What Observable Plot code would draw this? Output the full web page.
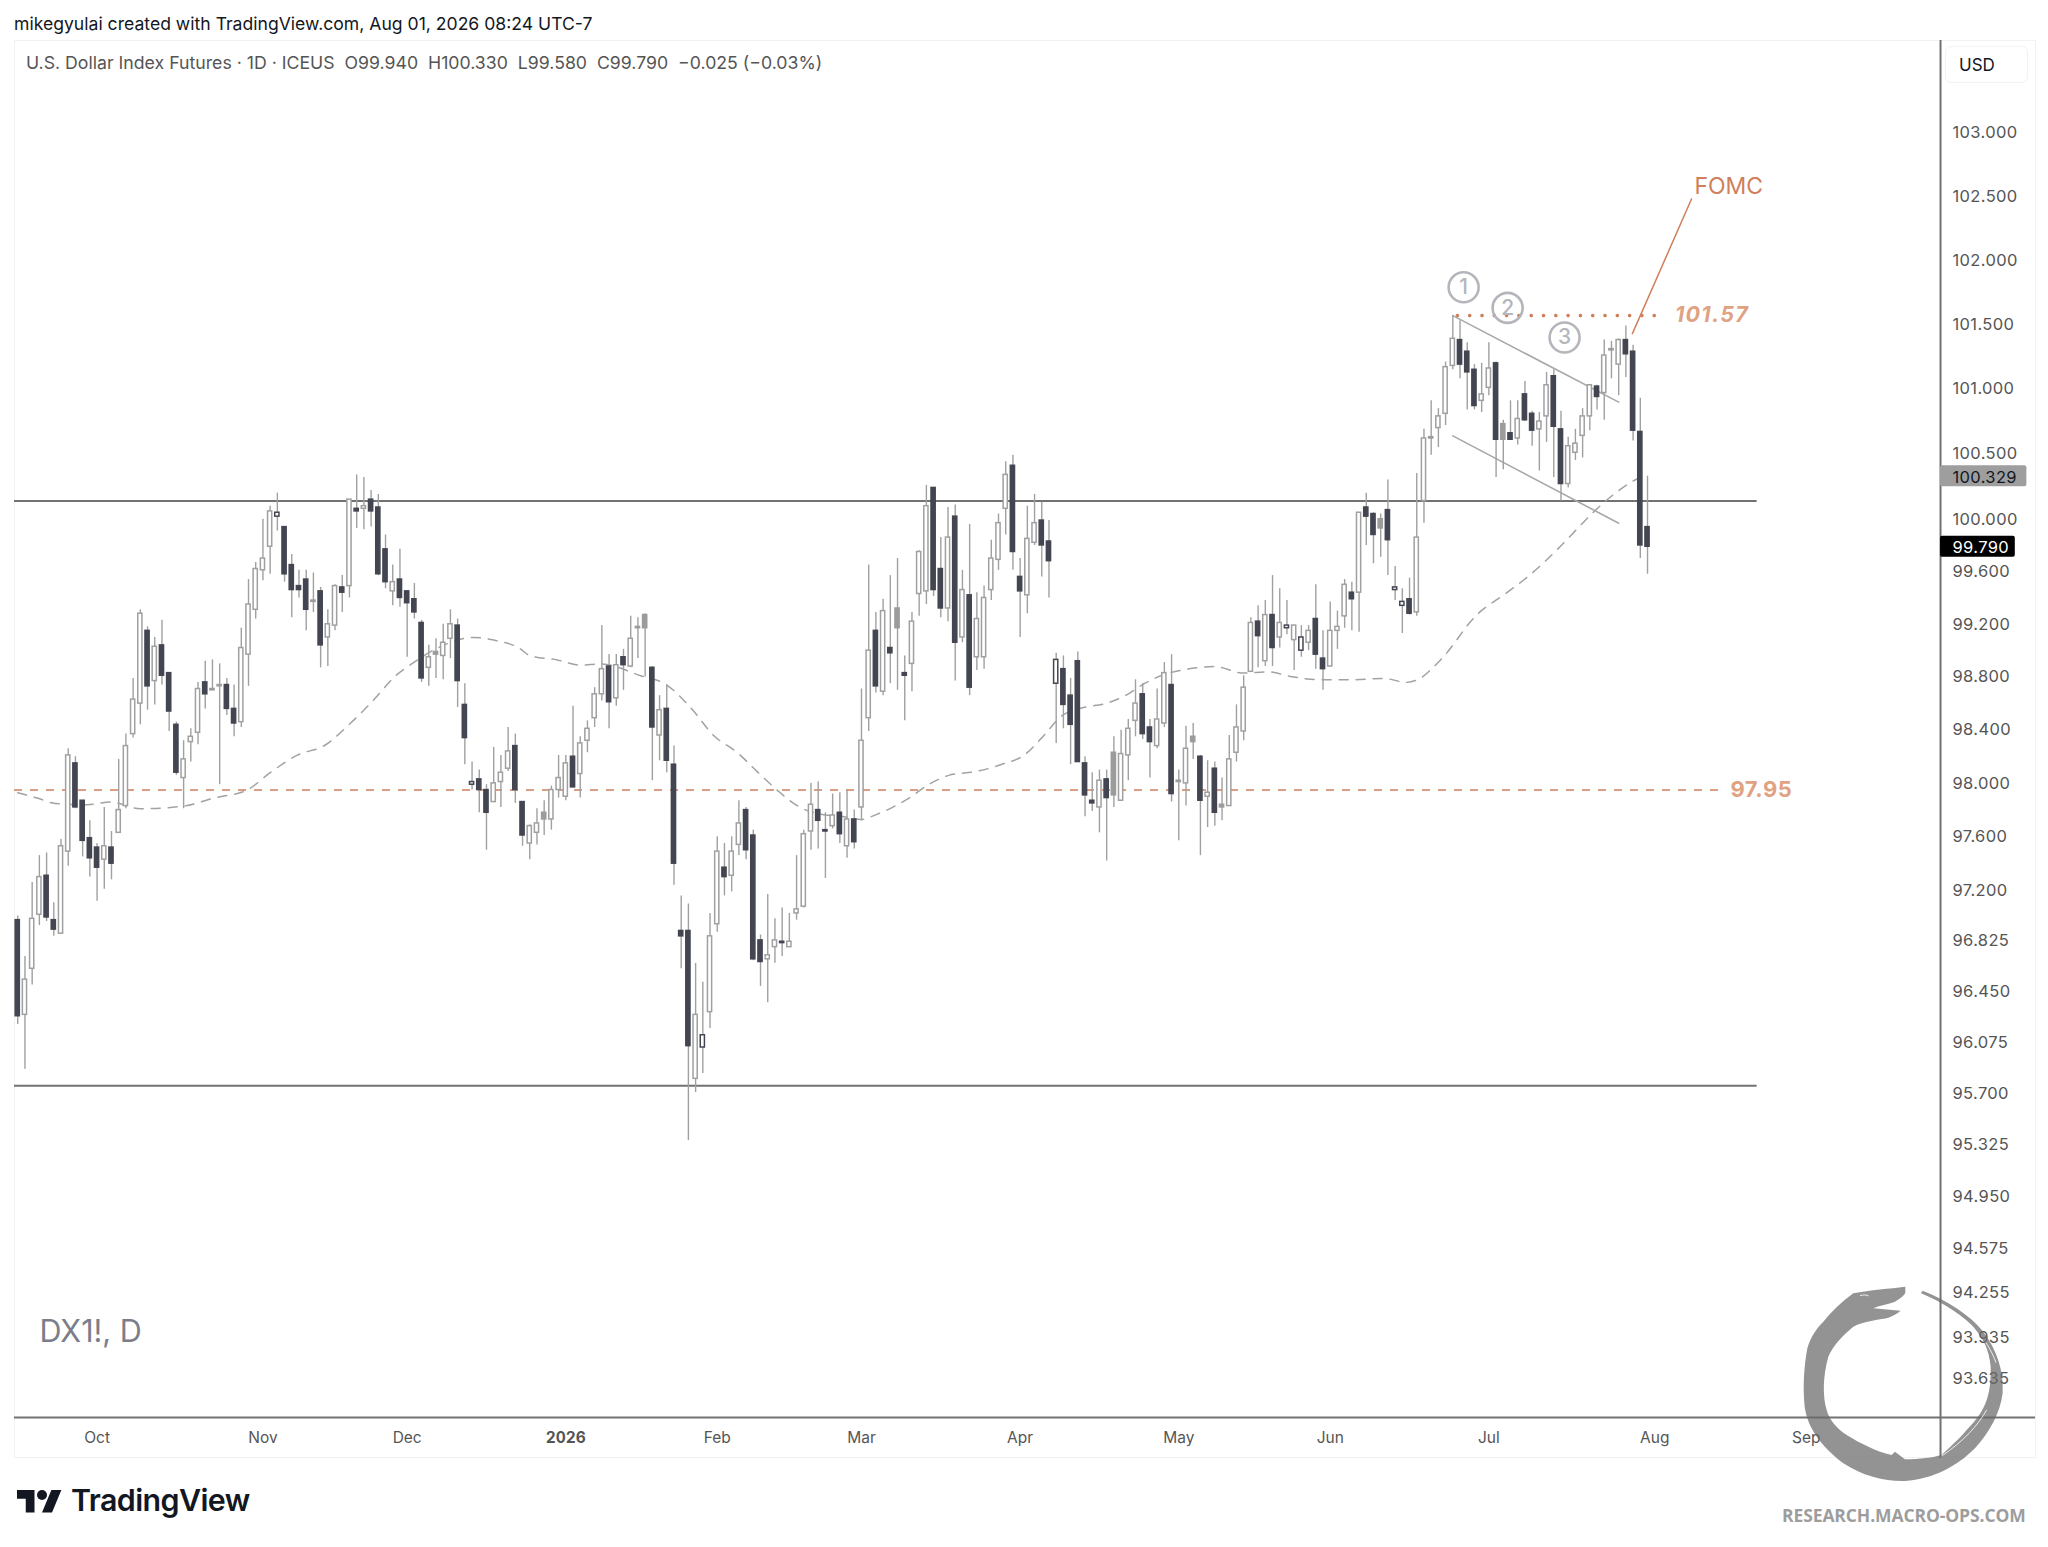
<!DOCTYPE html>
<html>
<head>
<meta charset="utf-8">
<script src="https://cdn.jsdelivr.net/npm/d3@7"></script>
<script src="https://cdn.jsdelivr.net/npm/@observablehq/plot@0.6"></script>
<style>
  html,body{margin:0;padding:0;background:#fff;}
  #page{position:relative;width:2048px;height:1547px;overflow:hidden;font-family:Inter,"Liberation Sans",sans-serif;}
  #page>div{position:absolute;white-space:pre;}
  #frame{left:14px;top:40px;width:2020px;height:1416px;border:1px solid #f2f2f2;}
  #by{left:14px;top:13px;font-size:17.6px;color:#131722;}
  #legend{left:26px;top:52px;font-size:17.7px;color:#555;}
  #usd{left:1945px;top:46px;width:83px;height:37px;border:1px solid #f3f3f3;border-radius:6px;background:#fff;box-sizing:border-box;font-size:17px;line-height:36px;padding-left:13px;color:#131722;}
  #tv{left:71px;top:1482px;font-size:30.4px;font-weight:600;color:#131722;letter-spacing:-.6px;}
  #site{left:1782px;top:1503px;font-size:17.5px;font-weight:700;color:#9d9d9d;font-family:"Open Sans",sans-serif;letter-spacing:-.1px;}
  #chart{position:absolute;left:0;top:0;}
  svg.deco{position:absolute;left:0;top:0;pointer-events:none;}
  .wide{letter-spacing:1.3px;}
  .mid{letter-spacing:.5px;}
  .scale{letter-spacing:.35px;}
</style>
</head>
<body>
<div id="page">
  <div id="frame"></div>
  <div id="chart"></div>
  <div id="by">mikegyulai created with TradingView.com, Aug 01, 2026 08:24 UTC-7</div>
  <div id="legend">U.S. Dollar Index Futures · 1D · ICEUS  O99.940  H100.330  L99.580  C99.790  −0.025 (−0.03%)</div>
  <div id="usd">USD</div>
  <div id="tv">TradingView</div>
  <div id="site">RESEARCH.MACRO-OPS.COM</div>
  <svg class="deco" width="2048" height="1547">
    <g transform="translate(17,1485) scale(1.25)" fill="#131722"><path d="M14 22H7V11H0V4h14v18zM28 22h-8l7.5-18h8L28 22z"/><circle cx="20" cy="8" r="4"/></g>
    <g transform="translate(1700,1180) scale(.3333)">
      <path fill="#6a6a6a" fill-opacity=".72" d="M616 320 C570 326 510 330 460 340 C425 365 395 395 370 425 C350 445 332 470 322 505 C312 560 308 620 314 680 C323 745 365 800 430 850 C490 890 560 905 615 903 C700 897 770 860 825 805 C870 755 900 700 908 640 C912 570 890 510 850 455 C810 405 740 360 668 332 L663 340 C700 355 770 390 820 440 C850 475 868 510 872 560 C874 640 860 690 800 750 C770 785 745 805 725 825 C700 832 660 838 615 838 L585 815 L575 825 C530 815 480 790 440 765 C410 745 388 720 380 690 C368 650 368 590 385 530 C400 495 430 465 460 440 C490 425 540 418 560 415 C580 408 595 398 602 392 L520 385 C540 375 570 372 585 365 C600 355 612 348 616 338 Z"/>
      <path fill="none" stroke="#fff" stroke-width="2.5" d="M858 488 C872 510 882 530 888 548 M860 690 C835 735 790 785 725 828 M480 347 C490 344 500 344 506 348"/>
    </g>
  </svg>
</div>
<script>
const opens = [
96.98,96.28,96.62,97.02,97.31,96.98,96.88,97.49,98.15,97.87,
97.59,97.52,97.43,97.52,97.63,97.83,98.37,98.60,99.15,98.77,
99.04,98.83,98.44,98.04,98.31,98.38,98.76,98.70,98.73,98.74,
98.56,98.46,98.97,99.31,99.61,99.79,100.02,99.94,99.65,99.49,
99.54,99.37,99.45,99.10,99.19,99.48,99.49,100.08,100.08,100.15,
100.09,99.77,99.45,99.54,99.45,99.39,99.21,98.87,98.97,98.96,
99.09,99.19,98.59,97.99,98.03,97.95,97.86,98.01,98.11,98.28,
97.86,97.55,97.63,97.73,97.73,97.95,97.90,98.20,98.07,98.32,
98.49,98.67,98.88,98.64,98.95,98.88,99.17,99.27,98.87,98.36,
98.56,98.14,96.90,96.90,95.81,96.04,96.30,96.95,97.37,97.31,
97.54,97.80,97.61,96.83,96.69,96.78,96.82,96.78,97.03,97.08,
97.64,97.80,97.65,97.68,97.78,97.53,97.73,97.82,98.49,99.15,
98.69,99.02,99.32,98.83,98.90,99.43,99.45,100.24,99.62,99.32,
100.02,99.10,99.42,98.95,98.95,99.46,99.69,100.08,100.41,99.56,
99.42,99.82,99.99,99.83,98.75,98.86,98.66,98.92,98.15,97.87,
97.82,98.03,98.23,97.87,98.21,98.47,98.67,98.42,98.28,98.45,
98.74,98.01,98.00,98.35,98.20,97.90,98.11,97.84,97.83,98.23,
98.39,98.84,99.22,98.92,99.27,99.10,99.17,99.08,99.00,99.06,
99.24,98.94,98.88,99.15,99.26,99.44,99.44,100.09,100.04,100.00,
100.07,99.46,99.34,99.39,99.29,100.14,100.62,100.70,100.81,101.18,
101.38,101.29,101.15,100.91,101.01,101.20,100.73,100.66,100.62,100.96,
100.81,100.69,100.79,101.10,100.69,100.27,100.51,100.64,100.79,101.02,
100.97,101.30,101.19,101.38,101.29,100.67,99.94];
const highs = [
97.01,96.71,97.26,97.46,97.48,97.11,97.58,98.26,98.20,97.87,
97.72,97.55,97.82,97.64,98.18,98.37,98.79,99.31,99.18,99.10,
99.23,98.83,98.46,98.32,98.41,98.76,98.92,98.93,98.90,98.79,
98.74,99.17,99.54,99.67,100.00,100.10,100.20,99.94,99.73,99.61,
99.61,99.59,99.48,99.31,99.50,99.57,100.15,100.34,100.32,100.22,
100.19,99.88,99.65,99.77,99.45,99.51,99.23,99.04,99.09,99.20,
99.31,99.24,98.75,98.16,98.10,97.99,98.27,98.21,98.42,98.37,
97.86,97.69,97.81,97.87,97.98,98.21,98.21,98.58,98.35,98.47,
98.72,99.19,98.97,98.97,99.01,99.26,99.25,99.28,98.88,98.66,
98.74,98.28,97.16,97.10,96.66,96.52,97.03,97.60,97.55,97.60,
97.87,97.82,97.65,96.87,97.17,96.99,97.07,97.03,97.46,97.65,
98.00,98.01,97.78,97.92,97.93,97.95,97.80,98.71,99.65,99.29,
99.39,99.57,99.70,98.96,99.29,99.76,100.26,100.24,99.86,100.09,
100.11,99.61,99.96,99.44,99.49,99.84,100.04,100.44,100.49,99.70,
100.10,100.19,100.13,99.99,98.98,98.96,98.79,98.99,98.20,98.08,
98.10,98.10,98.35,98.40,98.48,98.78,98.75,98.48,98.71,98.91,
98.97,98.10,98.43,98.45,98.21,98.17,98.16,98.04,98.36,98.59,
98.81,99.25,99.34,99.38,99.57,99.47,99.38,99.19,99.19,99.19,
99.50,99.15,99.37,99.30,99.54,99.52,100.05,100.20,100.05,100.04,
100.30,99.64,99.47,99.55,100.35,100.69,100.91,100.85,101.21,101.57,
101.53,101.36,101.19,101.20,101.36,101.21,100.76,100.91,100.91,101.06,
100.83,100.82,101.13,101.15,100.83,100.63,100.69,100.85,101.03,101.03,
101.38,101.37,101.39,101.49,101.34,100.93,100.33];
const lows = [
96.21,95.88,96.50,96.94,96.97,96.86,96.88,97.38,97.81,97.45,
97.30,97.12,97.21,97.28,97.63,97.81,98.34,98.44,98.55,98.59,
98.74,98.39,98.06,97.81,98.16,98.29,98.56,98.70,97.99,98.51,
98.35,98.42,98.73,99.24,99.53,99.58,99.91,99.52,99.25,99.40,
99.15,99.29,98.87,98.88,99.15,99.29,99.40,99.93,99.92,99.94,
99.57,99.47,99.34,99.33,98.95,99.24,98.76,98.73,98.79,98.78,
98.94,98.57,98.14,97.95,97.78,97.50,97.86,97.82,98.09,97.85,
97.53,97.43,97.54,97.61,97.65,97.89,97.87,97.97,97.89,98.23,
98.42,98.62,98.41,98.58,98.70,98.87,98.94,98.80,98.02,98.17,
98.08,97.24,96.62,95.36,95.71,95.85,96.18,96.89,97.16,97.19,
97.46,97.43,96.68,96.49,96.37,96.66,96.71,96.78,96.98,97.07,
97.50,97.51,97.29,97.66,97.55,97.44,97.51,97.72,98.39,98.68,
98.66,98.75,98.70,98.47,98.69,99.26,99.35,99.41,99.25,99.22,
98.77,99.06,98.66,98.85,98.86,99.38,99.61,99.88,99.61,99.10,
99.28,99.80,99.56,99.40,98.30,98.41,98.14,98.16,97.75,97.79,
97.63,97.42,97.82,97.87,98.02,98.35,98.33,98.04,98.26,98.42,
97.86,97.57,97.83,98.18,97.46,97.67,97.68,97.72,97.83,98.16,
98.32,98.84,98.87,98.88,98.88,99.02,99.12,98.85,98.95,99.00,
98.86,98.70,98.88,99.01,99.17,99.15,99.14,99.80,99.66,99.71,
99.57,99.38,99.13,99.27,99.26,99.97,100.49,100.55,100.72,101.15,
101.08,100.84,100.84,100.82,100.95,100.32,100.38,100.61,100.57,100.75,
100.56,100.37,100.59,100.32,100.14,100.24,100.45,100.47,100.68,100.84,
100.76,101.08,100.95,101.09,100.60,99.70,99.58];
const closes = [
96.27,96.54,96.99,97.30,97.00,96.91,97.53,98.21,97.82,97.57,
97.44,97.37,97.53,97.40,97.80,98.28,98.63,99.28,98.73,99.03,
98.81,98.54,98.08,98.18,98.35,98.71,98.67,98.71,98.74,98.56,
98.45,99.02,99.35,99.62,99.70,100.06,100.05,99.58,99.46,99.46,
99.31,99.38,99.04,99.20,99.49,99.44,100.15,100.06,100.10,100.06,
99.58,99.52,99.52,99.40,99.36,99.29,98.79,98.95,98.99,99.06,
99.20,98.77,98.34,98.01,97.95,97.78,98.00,98.08,98.24,97.95,
97.61,97.68,97.70,97.78,97.95,98.04,98.15,97.97,98.30,98.41,
98.67,98.86,98.61,98.89,98.89,99.09,99.18,99.17,98.42,98.55,
98.17,97.40,96.86,96.05,96.28,96.13,96.86,97.49,97.30,97.49,
97.70,97.50,96.69,96.67,96.72,96.83,96.81,96.82,97.06,97.62,
97.84,97.72,97.64,97.76,97.62,97.73,97.56,98.32,99.00,98.73,
99.30,98.98,99.17,98.81,99.22,99.75,100.10,99.46,99.32,99.86,
99.06,99.46,98.72,99.24,99.40,99.70,99.97,100.34,99.75,99.45,
99.85,99.97,99.80,99.68,98.93,98.59,98.44,98.16,97.91,97.85,
98.02,97.89,97.91,98.22,98.41,98.60,98.37,98.31,98.48,98.83,
97.92,98.02,98.26,98.31,97.87,97.93,97.78,97.82,98.18,98.42,
98.72,99.21,99.11,99.27,99.02,99.21,99.19,99.19,99.10,99.15,
98.97,98.86,99.15,99.18,99.50,99.39,100.05,100.02,99.88,99.93,
99.84,99.48,99.37,99.28,99.86,100.62,100.63,100.79,101.17,101.39,
101.19,101.13,100.87,100.96,101.16,100.61,100.61,100.61,100.77,100.76,
100.68,100.75,101.03,100.71,100.27,100.56,100.58,100.79,101.03,100.94,
101.26,101.31,101.38,101.27,100.68,99.80,99.79];
// bar numbers (from 1) drawn with a grey body or a dark outline instead of the usual up/down look
const greyBars = [28,42,59,74,87,88,123,153,162,164,168,190,197,207,222];
const outlinedBars = [37,64,96,145,177,179,192,193];
const maIndex = [0,2.7,5.2,9.6,12.9,17,23,27.2,31.8,35,38.7,42.7,46.1,49.4,52.2,54.9,58.6,63.2,66,69.5,71.1,74.8,78,80.8,86.4,90,93.3,96.5,99.8,102.5,105.3,108.5,111.3,114.6,116.9,119.2,123.3,126.6,129.1,133,136.3,139.5,142.3,144.6,147.8,150.8,153.9,156.2,159,162.2,165.9,170,173.3,177,180.7,184.8,189.5,192.5,194.1,197.3,202.3,206.5,209.8,213.5,216.3,218.6,221.3,223.9,225.8];
const maValue = [97.93,97.89,97.85,97.84,97.86,97.81,97.83,97.89,97.95,98.08,98.21,98.29,98.45,98.63,98.80,98.91,99.03,99.10,99.08,99.02,98.96,98.93,98.89,98.90,98.81,98.74,98.57,98.36,98.23,98.09,97.95,97.82,97.77,97.75,97.73,97.77,97.88,98.00,98.06,98.09,98.14,98.21,98.36,98.50,98.57,98.60,98.67,98.75,98.82,98.86,98.88,98.83,98.84,98.80,98.78,98.78,98.79,98.76,98.78,98.93,99.27,99.44,99.58,99.77,99.93,100.06,100.19,100.29,100.34];
const yTicks = [103,102.5,102,101.5,101,100.5,100,99.6,99.2,98.8,98.4,98,97.6,97.2,96.825,96.45,96.075,95.7,95.325,94.95,94.575,94.255,93.935,93.635];
const monthTicks = [11,34,54,97,117,139,161,182,204,227,248];
const monthNames = ["Oct","Nov","Dec","Feb","Mar","Apr","May","Jun","Jul","Aug","Sep"];
const yearTicks = [76];
const yearNames = ["2026"];
const resistance = 100.14, support = 95.76, pivot = 97.95, peak = 101.57;
const channelTop = [[199,101.57],[222,100.90]];
const channelBottom = [[199,100.64],[222,99.97]];
const fomcLine = [[223.9,101.43],[232.1,102.48]];
const counts = [{i:200.5,v:101.79,t:"1"},{i:206.6,v:101.63,t:"2"},{i:214.5,v:101.40,t:"3"}];
const lastTags = [{v:100.329,t:"100.329",fill:"#9e9e9e",color:"#131722",end:278.6},{v:99.79,t:"99.790",fill:"#000000",color:"#ffffff",end:277}];

const kindOf = (n,o,c) => greyBars.includes(n) ? "g" : outlinedBars.includes(n) ? "h" : c >= o ? "u" : "d";
const bars = opens.map((o,i)=>({i,o,h:highs[i],l:lows[i],c:closes[i],k:kindOf(i+1,o,closes[i])}));
const ma = maIndex.map((i,n)=>({i,v:maValue[n]}));
const paneEdge = 266.63, lineEnd = 241.2, font = "Inter, 'Liberation Sans', sans-serif";
const axisGrey = "#727272", wick = "#a0a0a0", dark = "#434651", orange = "#cf7f5a", soft = "#dfa283";
const fills = {d:dark,u:"#ffffff",g:"#9c9c9c",h:"#ffffff"}, strokes = {d:dark,u:"#a0a0a0",g:"#9c9c9c",h:dark};
const tag = 0.0008;

const plot = Plot.plot({
  width:2048,height:1547,marginLeft:14,marginRight:13,marginTop:40,marginBottom:130,
  style:{background:"transparent",overflow:"visible"},
  x:{domain:[-0.45,279.8],axis:null},
  y:{type:"log",domain:[93.36,103.73],axis:null},
  color:{type:"identity"},
  marks:[
    Plot.ruleY([pivot],{x1:-0.45,x2:236,stroke:orange,strokeWidth:1.4,strokeDasharray:"8 8"}),
    Plot.ruleY([resistance,support],{x1:-0.45,x2:lineEnd,stroke:axisGrey,strokeWidth:2}),
    Plot.ruleY([peak],{x1:199.7,x2:228,stroke:orange,strokeWidth:3.6,strokeDasharray:"0.1 12.2",strokeLinecap:"round"}),
    Plot.line(ma,{x:"i",y:"v",curve:"monotone-x",stroke:"#a2a2a2",strokeWidth:1.5,strokeDasharray:"9 8"}),
    Plot.line(channelTop,{x:d=>d[0],y:d=>d[1],stroke:"#a8a8a8",strokeWidth:1.6}),
    Plot.line(channelBottom,{x:d=>d[0],y:d=>d[1],stroke:"#a8a8a8",strokeWidth:1.6}),
    Plot.line(fomcLine,{x:d=>d[0],y:d=>d[1],stroke:orange,strokeWidth:1.5}),
    Plot.ruleX(bars,{x:"i",y1:"l",y2:"h",stroke:wick,strokeWidth:1.4}),
    Plot.rect(bars,{x1:d=>d.i-0.29,x2:d=>d.i+0.29,y1:"o",y2:"c",
      fill:d=>fills[d.k],stroke:d=>strokes[d.k],strokeWidth:1.5}),
    Plot.dot(counts,{x:"i",y:"v",r:15,stroke:"#b4b6bc",strokeWidth:2.6,fill:"none"}),
    Plot.text(counts,{x:"i",y:"v",text:"t",fill:"#b4b6bc",fontSize:21,fontWeight:500,fontFamily:font}),
    Plot.text(["FOMC"],{x:232.5,y:102.58,text:d=>d,textAnchor:"start",fill:orange,fontSize:23,fontFamily:font}),
    Plot.text(["101.57"],{x:229.8,y:peak,text:d=>d,textAnchor:"start",fill:soft,fontSize:21.5,fontWeight:700,fontStyle:"italic",fontFamily:font,className:"wide"}),
    Plot.text(["97.95"],{x:237.5,y:pivot,text:d=>d,textAnchor:"start",fill:soft,fontSize:22,fontWeight:700,fontFamily:font,className:"mid"}),
    Plot.text(["DX1!, D"],{x:3,y:93.97,text:d=>d,textAnchor:"start",fill:"#7b7e8a",fontSize:30.5,fontFamily:font}),
    Plot.ruleX([paneEdge],{y1:93.07,y2:103.73,stroke:axisGrey,strokeWidth:2}),
    Plot.ruleY([93.36],{stroke:axisGrey,strokeWidth:2}),
    Plot.rect(lastTags,{x1:paneEdge,x2:"end",y1:d=>d.v*(1+tag),y2:d=>d.v*(1-tag),fill:"fill",rx:2}),
    Plot.text(yTicks,{x:paneEdge,y:d=>d,text:d=>d3.format(".3f")(d),textAnchor:"start",fill:"#555",fontSize:16.5,fontFamily:font,dx:12,className:"scale"}),
    Plot.text(lastTags,{x:paneEdge,y:"v",text:"t",textAnchor:"start",fill:"color",fontSize:16.5,fontFamily:font,dx:12,dy:1,className:"scale"}),
    Plot.axisX({ticks:monthTicks,tickFormat:d=>monthNames[monthTicks.indexOf(d)],tickSize:0,tickPadding:14,fontSize:15.5,fill:"#555",fontFamily:font,label:null}),
    Plot.axisX({ticks:yearTicks,tickFormat:d=>yearNames[yearTicks.indexOf(d)],tickSize:0,tickPadding:14,fontSize:15.5,fontWeight:700,fill:"#555",fontFamily:font,label:null})
  ]
});
document.getElementById("chart").appendChild(plot);
</script>
</body>
</html>
